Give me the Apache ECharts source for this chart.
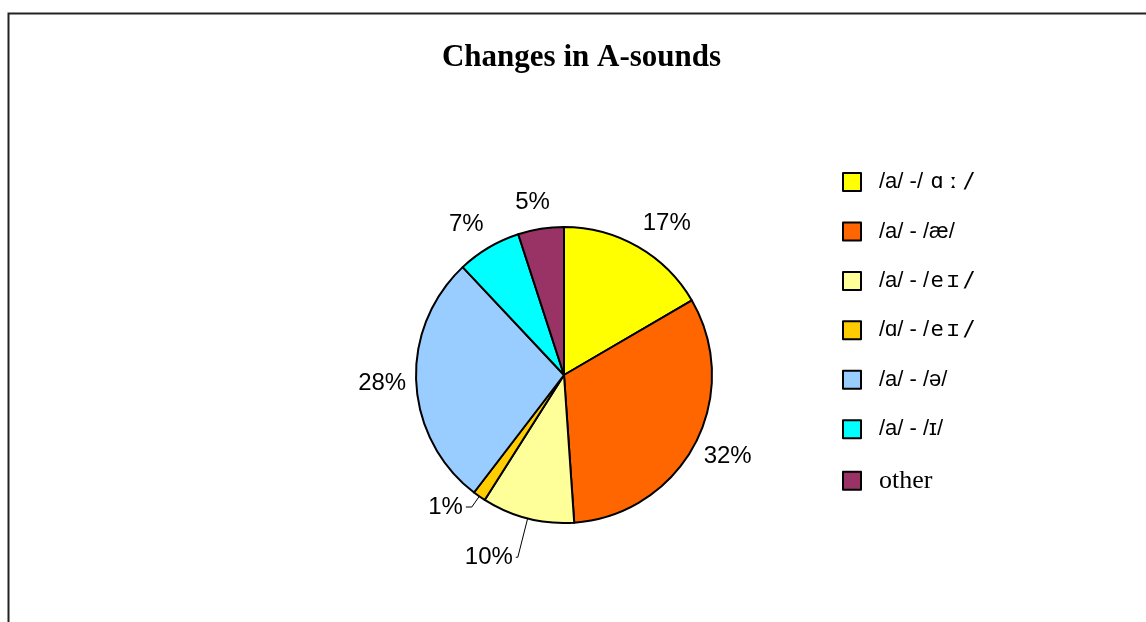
<!DOCTYPE html>
<html>
<head>
<meta charset="utf-8">
<script src="https://cdn.jsdelivr.net/npm/echarts@6/dist/echarts.min.js"></script>
<style>
  html, body { margin: 0; padding: 0; background: #fff; }
  #chart { width: 1146px; height: 622px; }
</style>
</head>
<body>
<div id="chart"></div>
<script>
// Sound-change categories and their share (percent of all changes)
const categories = ['/a/ -/ ɑː/', '/a/ - /æ/', '/a/ - /eɪ/', '/ɑ/ - /eɪ/', '/a/ - /ə/', '/a/ - /ɪ/', 'other'];
const shares = [16.6, 32.3, 10.1, 1.4, 27.6, 7.0, 5.0];
const colors = ['#FFFF00', '#FF6600', '#FFFF99', '#FFCC00', '#99CCFF', '#00FFFF', '#993366'];
// thin slices whose labels are pulled out with a leader line: [radial length, horizontal length]
const leaderSlices = { '/a/ - /eɪ/': [40, 2], '/ɑ/ - /eɪ/': [13, 6] };

const SANS = '"Liberation Sans", Arial, sans-serif';
const SERIF = '"Liberation Serif", "Times New Roman", serif';
const MONO = '"DejaVu Sans Mono", "Liberation Mono", monospace';

const PIE_CENTER = [564, 375];
const PIE_RADIUS = 148;
const LABEL_GAP = 10;

const chart = echarts.init(document.getElementById('chart'));

// Main pie: the slices, plus leader-line labels for the thin ones
const pieData = categories.map((name, i) => {
  const leader = leaderSlices[name];
  return {
    name,
    value: shares[i],
    itemStyle: { color: colors[i] },
    label: { show: !!leader },
    labelLine: leader ? { show: true, length: leader[0], length2: leader[1] } : { show: false }
  };
});

// Invisible ring sharing the slice angles; its labels are pushed just clear of the pie edge
const ringData = categories.map((name, i) => ({
  name,
  value: shares[i],
  label: { show: !leaderSlices[name] }
}));

const labelFont = { fontFamily: SANS, fontSize: 24, color: '#000' };

// Move a label outward along its slice direction so it sits clear of the rim
function placeOutsideRim(params) {
  const r = params.labelRect;
  const mx = r.x + r.width / 2 - PIE_CENTER[0];
  const my = r.y + r.height / 2 - PIE_CENTER[1];
  const len = Math.hypot(mx, my) || 1;
  const ux = mx / len, uy = my / len;
  const d = PIE_RADIUS + LABEL_GAP;
  const ex = Math.sign(ux) * (r.width / 2) * Math.min(1, 2.5 * Math.abs(ux));
  const ey = 0.7 * r.height * uy;
  return {
    x: PIE_CENTER[0] + ux * d + ex,
    y: PIE_CENTER[1] + uy * d + ey,
    align: 'center',
    verticalAlign: 'middle'
  };
}

// Legend text: phonetic symbols after the dash are set in a monospaced cell per glyph
function legendText(name) {
  if (name === 'other') return '{serif|other}';
  return name.replace(/(ɑː|eɪ)\//g, m => Array.from(m).map(c => '{ipa|' + c + '}').join(''));
}

chart.setOption({
  animation: false,
  backgroundColor: '#ffffff',
  title: {
    text: 'Changes in A-sounds',
    left: 576.5,
    top: 37,
    textAlign: 'center',
    textStyle: { fontFamily: SERIF, fontWeight: 'bold', fontSize: 31, color: '#000' }
  },
  graphic: [{
    type: 'rect',
    shape: { x: 8.5, y: 13.5, width: 1160, height: 640 },
    style: { fill: 'none', stroke: '#222', lineWidth: 2 },
    silent: true
  }],
  legend: {
    orient: 'vertical',
    left: 837,
    top: 166,
    itemWidth: 18,
    itemHeight: 18,
    itemGap: 27.45,
    icon: 'rect',
    selectedMode: false,
    itemStyle: { borderColor: '#000', borderWidth: 2 },
    textStyle: {
      fontFamily: SANS,
      fontSize: 22,
      lineHeight: 20,
      color: '#000',
      padding: [0, 0, 0, 13],
      rich: {
        ipa: { fontFamily: MONO, fontSize: 22, lineHeight: 20, width: 16, align: 'center', color: '#000' },
        serif: { fontFamily: SERIF, fontSize: 26, lineHeight: 20, color: '#000' }
      }
    },
    formatter: legendText,
    data: categories
  },
  series: [{
    type: 'pie',
    name: 'slices',
    center: PIE_CENTER,
    radius: [0, PIE_RADIUS],
    startAngle: 90,
    clockwise: true,
    percentPrecision: 0,
    avoidLabelOverlap: false,
    itemStyle: { borderColor: '#000', borderWidth: 2 },
    label: Object.assign({ position: 'outside', formatter: '{d}%', distanceToLabelLine: 3 }, labelFont),
    labelLine: { lineStyle: { color: '#000', width: 1 } },
    emphasis: { disabled: true },
    data: pieData
  }, {
    type: 'pie',
    name: 'labels',
    center: PIE_CENTER,
    radius: [PIE_RADIUS + 2, PIE_RADIUS + 12],
    startAngle: 90,
    clockwise: true,
    percentPrecision: 0,
    silent: true,
    avoidLabelOverlap: false,
    itemStyle: { color: 'rgba(0,0,0,0)', borderWidth: 0 },
    label: Object.assign({ position: 'inside', rotate: 0, formatter: '{d}%' }, labelFont),
    labelLine: { show: false },
    labelLayout: placeOutsideRim,
    emphasis: { disabled: true },
    data: ringData
  }]
});
</script>
</body>
</html>
